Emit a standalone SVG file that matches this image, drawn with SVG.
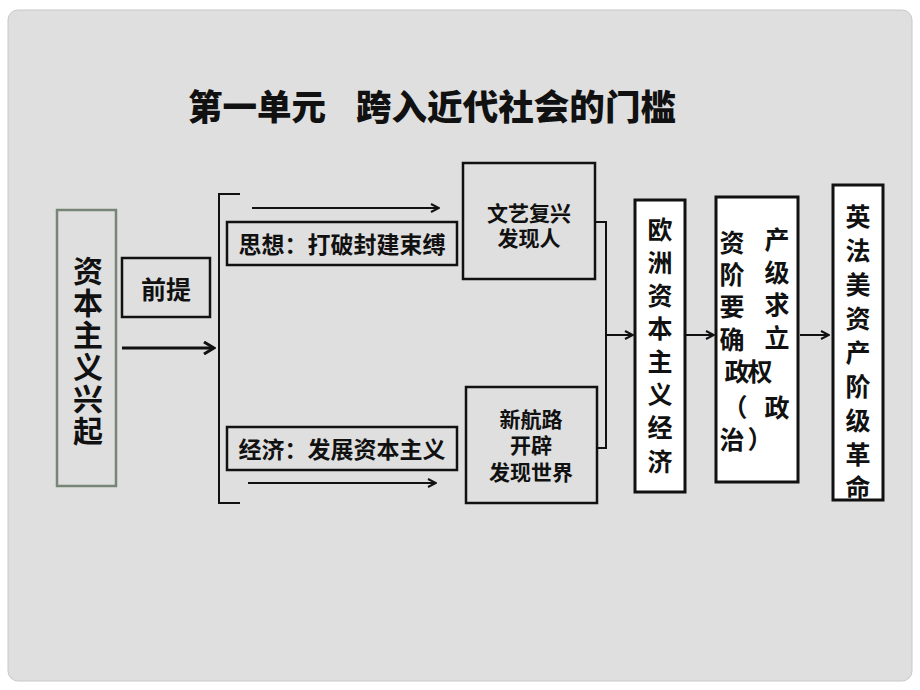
<svg xmlns="http://www.w3.org/2000/svg" width="920" height="690" viewBox="0 0 920 690">
<defs>
<marker id="arr" viewBox="0 0 10 10" refX="9" refY="5" markerWidth="10" markerHeight="10" markerUnits="userSpaceOnUse" orient="auto">
<path d="M1,1 L9,5 L1,9" fill="none" stroke="#111" stroke-width="2"/>
</marker>
<marker id="arrB" viewBox="0 0 14 14" refX="12" refY="7" markerWidth="14" markerHeight="14" markerUnits="userSpaceOnUse" orient="auto">
<path d="M2,1 L12,7 L2,13" fill="none" stroke="#111" stroke-width="3"/>
</marker>
</defs>
<style>
.t{font-family:"Noto Sans CJK SC","Noto Sans CJK TC",sans-serif;font-weight:bold;fill:#111;text-anchor:middle;dominant-baseline:central}
.ttl{font-family:"Noto Sans CJK SC","Noto Sans CJK TC",sans-serif;font-weight:900;fill:#111;dominant-baseline:central}
.box{fill:none;stroke:#111;stroke-width:2.5}
.wbox{fill:#fff;stroke:#111;stroke-width:3}
.ln{fill:none;stroke:#111;stroke-width:2}
</style>
<rect x="0" y="0" width="920" height="690" fill="#fff"/>
<rect x="8" y="10" width="904" height="671" rx="10" ry="10" fill="#dfdfdf" stroke="#c8c8c8" stroke-width="1"/>
<text class="ttl" x="188" y="104" font-size="35" textLength="138" lengthAdjust="spacingAndGlyphs">第一单元</text>
<text class="ttl" x="356" y="104" font-size="35" textLength="320" lengthAdjust="spacingAndGlyphs">跨入近代社会的门槛</text>

<g id="n-rise">
<rect x="57" y="210" width="59" height="276" fill="none" stroke="#778577" stroke-width="2.5"/>
<text class="t" font-size="30"><tspan x="88" y="269">资</tspan><tspan x="88" y="301">本</tspan><tspan x="88" y="333">主</tspan><tspan x="88" y="365">义</tspan><tspan x="88" y="397">兴</tspan><tspan x="88" y="429">起</tspan></text>
</g>
<g id="n-premise">
<rect class="box" x="122" y="258" width="88" height="59"/>
<text class="t" x="166" y="288" font-size="25">前提</text>
</g>
<g id="n-thought">
<rect class="box" x="227" y="222" width="230" height="43"/>
<text class="t" x="342" y="243" font-size="23">思想：打破封建束缚</text>
</g>
<g id="n-economy">
<rect class="box" x="227" y="427" width="230" height="43"/>
<text class="t" x="342" y="448" font-size="23">经济：发展资本主义</text>
</g>
<g id="n-renaissance">
<rect class="box" x="463" y="163" width="132" height="116"/>
<text class="t" font-size="21"><tspan x="529" y="212">文艺复兴</tspan><tspan x="529" y="237">发现人</tspan></text>
</g>
<g id="n-route">
<rect class="box" x="466" y="387" width="131" height="116"/>
<text class="t" font-size="21"><tspan x="531" y="418">新航路</tspan><tspan x="531" y="444">开辟</tspan><tspan x="531" y="471">发现世界</tspan></text>
</g>
<g id="n-europe">
<rect class="wbox" x="635" y="200" width="50" height="292"/>
<text class="t" font-size="25"><tspan x="660" y="228">欧</tspan><tspan x="660" y="261">洲</tspan><tspan x="660" y="294">资</tspan><tspan x="660" y="327">本</tspan><tspan x="660" y="360">主</tspan><tspan x="660" y="393">义</tspan><tspan x="660" y="426">经</tspan><tspan x="660" y="460">济</tspan></text>
</g>
<g id="n-bourgeois">
<rect class="wbox" x="716" y="197" width="82" height="285"/>
<text class="t" font-size="25"><tspan x="732" y="241">资</tspan><tspan x="777" y="238">产</tspan><tspan x="732" y="273">阶</tspan><tspan x="777" y="271">级</tspan><tspan x="732" y="305">要</tspan><tspan x="777" y="303">求</tspan><tspan x="732" y="338">确</tspan><tspan x="777" y="336">立</tspan><tspan x="737" y="370">政</tspan><tspan x="760" y="370">权</tspan><tspan x="735" y="406">（</tspan><tspan x="777" y="406">政</tspan><tspan x="732" y="438">治</tspan><tspan x="760" y="438">）</tspan></text>
</g>
<g id="n-revolution">
<rect class="wbox" x="833" y="185" width="50" height="315"/>
<text class="t" font-size="25"><tspan x="858" y="215">英</tspan><tspan x="858" y="249">法</tspan><tspan x="858" y="283">美</tspan><tspan x="858" y="317">资</tspan><tspan x="858" y="351">产</tspan><tspan x="858" y="385">阶</tspan><tspan x="858" y="419">级</tspan><tspan x="858" y="453">革</tspan><tspan x="858" y="486">命</tspan></text>
</g>

<g id="connectors">
<line x1="122" y1="348" x2="214" y2="348" stroke="#111" stroke-width="3" marker-end="url(#arrB)"/>
<path class="ln" d="M240,194 L219,194 L219,503 L240,503" stroke-width="2.5"/>
<line class="ln" x1="252" y1="208" x2="439" y2="208" marker-end="url(#arr)"/>
<line class="ln" x1="248" y1="483" x2="436" y2="483" marker-end="url(#arr)"/>
<path class="ln" d="M595,222 L606,222 L606,448 L597,448"/>
<line class="ln" x1="606" y1="335" x2="633" y2="335" marker-end="url(#arr)"/>
<line class="ln" x1="686" y1="335" x2="714" y2="335" marker-end="url(#arr)"/>
<line class="ln" x1="800" y1="335" x2="829" y2="335" marker-end="url(#arr)"/>
</g>
</svg>
